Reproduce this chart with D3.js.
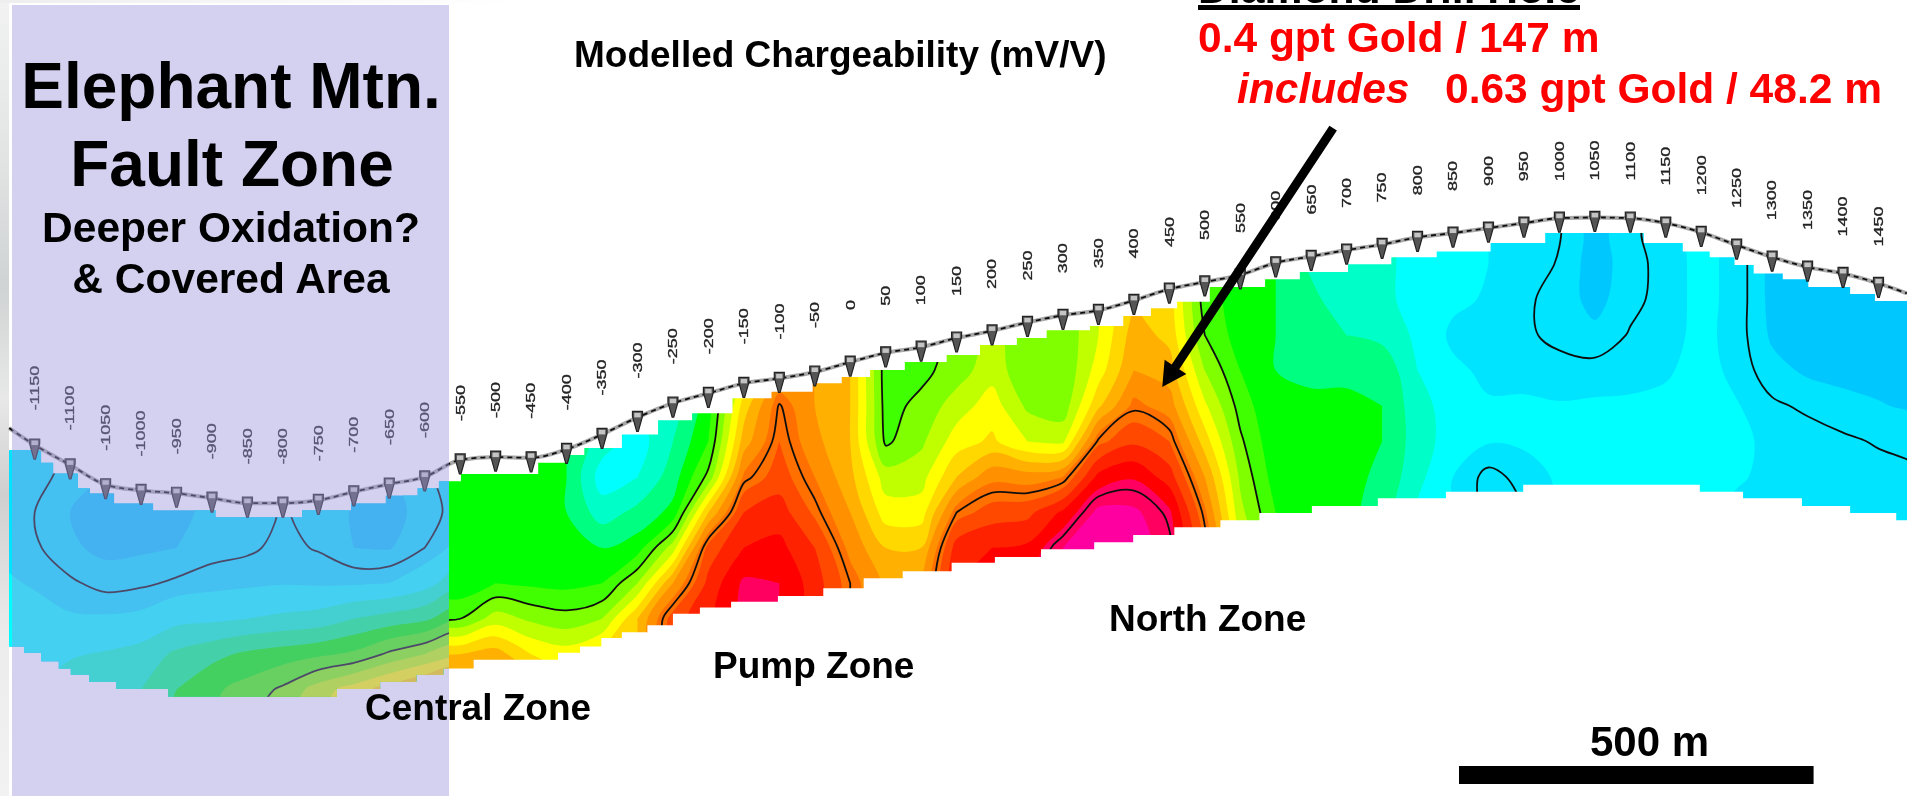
<!DOCTYPE html>
<html>
<head>
<meta charset="utf-8">
<title>Modelled Chargeability</title>
<script src="https://cdn.jsdelivr.net/npm/d3@7"></script>
<style>
  html, body { margin: 0; padding: 0; background: #fff; }
  svg { display: block; }
  text { font-family: "Liberation Sans", Arial, sans-serif; font-weight: bold; }
</style>
</head>
<body>
<svg id="chart" width="1907" height="796"></svg>
<script>
const _ = null;

// stations along the line (m) and surface elevation at each one (m, relative)
const stations = d3.range(-1150, 1451, 50);
const surface = [495, 467, 439, 431, 427, 420, 413, 413, 417, 429, 440, 450, 474, 478, 477, 489, 510, 534,
    554, 568, 582, 589, 598, 612, 625, 633, 646, 656, 668, 678, 685, 699, 715, 725, 735, 752, 761, 770,
    778, 788, 794, 801, 808, 815, 816, 815, 808, 795, 777, 760, 746, 737, 723];
const lineEnds = [[-1186, 519], [1490, 709]];

// staircase outline of the inverted section: m where a step starts, elevation of that step
const topStepM = [-1186, -1141, -1124, -1089, -1072, -1038, -983, -895, -773, -704, -655, -610, -580, -549,
    -440, -400, -375, -322, -271, -223, -166, -111, -53, -12, 28, 77, 136, 183, 235, 277, 338, 385, 424,
    461, 507, 585, 634, 702, 763, 827, 903, 980, 1119, 1174, 1212, 1247, 1274, 1315, 1351, 1410, 1445, 1500];
const topStepElev = [488, 470, 455, 434, 427, 413, 403, 393, 403, 413, 424, 434, 444, 454,
    470, 481, 491, 510, 530, 540, 561, 570, 582, 591, 601, 612, 622, 636, 646, 657, 663, 677, 688,
    697, 718, 729, 739, 750, 760, 768, 780, 794, 780, 768, 760, 749, 737, 729, 718, 708, 698, 698];
const bottomStepM = [-1186, -1165, -1141, -1116, -1099, -1073, -1035, -962, -724, -663, -612, -574, -531,
    -412, -381, -351, -322, -286, -250, -212, -168, -102, -38, 19, 74, 143, 204, 269, 344, 399, 457,
    522, 577, 651, 744, 840, 949, 1198, 1259, 1342, 1410, 1475, 1500];
const bottomStepElev = [211, 202, 190, 180, 171, 161, 151, 140, 151, 161, 171, 180, 192,
    202, 211, 223, 231, 241, 257, 266, 274, 282, 293, 307, 317, 329, 337, 348, 358, 368, 379,
    389, 399, 409, 420, 429, 439, 429, 420, 409, 399, 389, 389];

// left panel (fault zone), one line per column -1200 .. -550, elevations 500 down to 100
const leftColumnM = d3.range(-1200, -549, 50);
const leftRowElev = d3.range(500, 99, -50);
const leftColumns = [
    [1.7, 1.75, 1.8, 1.85, 2.1, 2.2, 2.3, 2.4, 2.5],
    [1.7, 1.7, 1.5, 1.6, 1.95, 2.2, 2.4, 3, 3.2],
    [1.5, 1.3, 1, 1.1, 1.6, 2.1, 2.9, 3.5, 3.8],
    [.9, .9, .8, .85, 1.3, 2.1, 3.1, 3.8, 4],
    [.9, .9, .8, .9, 1.4, 2.2, 3.4, 4, 4.3],
    [.9, .9, .9, 1, 1.6, 2.7, 4.2, 5, 5.3],
    [1.1, 1.1, 1.1, 1.3, 1.75, 2.8, 4.7, 5.8, 6],
    [1.2, 1.2, 1.2, 1.4, 1.85, 3, 5.2, 6.4, 6.8],
    [1.55, 1.55, 1.55, 1.65, 1.95, 3.2, 5.5, 7.2, 7.6],
    [1.3, 1.3, 1.3, 1.45, 1.9, 3.4, 5.8, 8.5, 9],
    [1.1, 1.1, .95, 1, 1.9, 4, 6.2, 9.5, 10],
    [.9, .9, .8, .95, 2, 4.4, 7.2, 10.5, 11],
    [1.5, 1.4, 1.2, 1.5, 2.6, 4.8, 8, 11.5, 12],
    [1.8, 1.8, 1.8, 2.3, 3.7, 5.8, 9, 12, 13]
];

// right panel, one line per column -600 .. 1500, elevations 800 down to 150
const rightColumnM = d3.range(-600, 1501, 50);
const rightRowElev = d3.range(800, 149, -50);
const rightColumns = [
    [_, _, _, _, _, _, _, 5, 5, 5, 5.2, 7, 11, 13],
    [_, _, _, _, _, _, _, 5, 5, 5, 5.2, 7, 11, 13],
    [_, _, _, _, _, _, _, 5, 5, 5, 6, 8.5, 11.5, 13],
    [_, _, _, _, _, _, _, 5, 5, 5, 5.8, 7.8, 10, 12],
    [_, _, _, _, _, _, _, 5, 5, 5.1, 5.7, 7.4, 9.5, 11],
    [_, _, _, _, _, _, 3.5, 2.5, 3.5, 5, 6, 8, 10.5],
    [_, _, _, _, _, 3, 2.5, 3, 4.3, 5.5, 8, 11],
    [_, _, _, _, _, 3.5, 4, 4.5, 5.3, 8.5, 12, 14.5],
    [_, _, _, _, 5, 5.5, 6, 7.3, 11, 14.4, 15.3, 15.8],
    [_, _, _, _, 9, 10.5, 11.5, 13.2, 15, 16, 17.2, 17.3],
    [_, _, _, _, 12, 13.6, 14, 14.5, 15.5, 16.3, 17, 17],
    [_, _, _, _, 12, 12, 12.3, 13, 13.8, 15, 15.5, 15.5],
    [_, _, _, _, 11, 11, 11, 11.3, 12, 12.7, 13.5],
    [_, _, _, 6.6, 6.5, 6.6, 6.8, 8.5, 9.5, 11, 11.8],
    [_, _, _, 6.7, 6.7, 7.3, 7.8, 8.6, 9.5, 11, 12],
    [_, _, _, 7.2, 7.5, 8.5, 9.5, 11, 13.5, 15.5, 16],
    [_, _, 8.4, 8.4, 8.6, 9.5, 10.2, 12.7, 14.5, 16, 17],
    [_, _, _, 7.3, 7.2, 7.8, 9, 12.5, 14.7, 16.2, 17],
    [_, _, _, 7.2, 7.1, 7.4, 8.8, 13, 16.2, 18, 18],
    [_, _, _, 9, 9.5, 10.8, 13.7, 16.3, 18.3, 18.5],
    [_, _, 11, 11.5, 12, 13.3, 14.8, 16.9, 18.2, 18.5],
    [_, _, 10.5, 10.7, 11.5, 12.5, 14, 15.5, 17.2, 17.6],
    [_, _, 6.5, 7, 8, 9.2, 10.5, 12, 13.2, 14],
    [_, _, 5.5, 5.5, 6, 6.6, 7.2, 7.8, 8.3, 9],
    [_, 5, 5, 5, 5, 5, 5.2, 5.5, 6, 6.5],
    [_, 3.8, 4.3, 4.3, 4.7, 5.3, 5.3, 5.3, 5.5],
    [_, 3.3, 3.3, 4, 4.8, 5.2, 5.3, 5.3, 5.3],
    [_, 3.2, 3.2, 3.7, 4.8, 5, 5, 4.8, 4.5],
    [_, 2.7, 2.7, 2.8, 3, 3.4, 3.5, 3.3, 2.8],
    [_, 2.3, 2.2, 1.8, 2.2, 2.5, 2.5, 2, 2],
    [_, 2, 1.9, 1.6, 1.8, 2.1, 2.05, 1.3, 1.3],
    [_, 1.8, 1.6, 1.6, 1.8, 2.1, 2.1, 1.7, 1.5],
    [1.55, 1.45, 1.3, 1.35, 1.7, 2.05, 2.1, 2.1, 2.1],
    [.7, .7, .8, 1.15, 1.7, 2.1, 2.2, 2.2],
    [1.4, 1.3, 1.35, 1.55, 1.8, 2.1, 2.2, 2.2],
    [_, 1.7, 1.7, 1.75, 1.9, 2.2, 2.3, 2.2],
    [_, 2.2, 2.2, 2.2, 2.3, 2.3, 2.2, 2.1, 2.1],
    [_, _, 1.8, 1.75, 1.8, 2.05, 2.1, 2.05, 1.9],
    [_, _, .8, .9, 1.2, 1.6, 1.9, 1.9, 1.85],
    [_, _, .7, .7, .9, 1.4, 1.75, 1.8, 1.8],
    [_, _, .7, .7, .8, 1.2, 1.6, 1.75, 1.8],
    [_, _, .7, .7, .75, 1.05, 1.45, 1.7, 1.75],
    [_, _, .7, .7, .7, .9, 1.35, 1.6, 1.7]
];

// colour bands of the rainbow scale and the levels that get a black contour
const bandLevels = d3.range(0, 19);
const bandColors = ['#00c8ff', '#00e4ff', '#00ffff', '#00ffc8', '#00ff80', '#00ff00', '#40ff00', '#80ff00',
    '#c0ff00', '#ffff00', '#ffd800', '#ffb000', '#ff9000', '#ff7000', '#ff4800', '#ff2000', '#ff0000',
    '#ff0060', '#ff00a0'];
const contourLevels = [1.5, 7, 13.5, 17.4];

const scaleBarMetres = 500;
const holeTitle = 'Diamond Drill Hole';
const holeLines = ['0.4 gpt Gold / 147 m', 'includes', '0.63 gpt Gold / 48.2 m'];
const arrowM = [681, 440];
const arrowElev = [942, 577];

const width = 1907, height = 796;
const x = d3.scaleLinear().domain([-1150, 1450]).range([34.7, 1878.5]);
const y = d3.scaleLinear().domain([0, 1122.7]).range([height, 0]);
const bandColor = d3.scaleOrdinal(bandLevels, bandColors);

const svg = d3.select('#chart');
const defs = svg.append('defs');

const edgeGrad = defs.append('linearGradient').attr('id', 'edge').attr('x1', 0).attr('x2', 0).attr('y1', 0).attr('y2', 1);
[[0, '#f2f2f2'], [.2, '#e2e4e4'], [.36, '#d0d3d3'], [.5, '#e8e8e8'], [.62, '#cfcfcf'], [.8, '#ececec'], [1, '#f2f2f2']]
    .forEach(s => edgeGrad.append('stop').attr('offset', s[0]).attr('stop-color', s[1]));
const topGrad = defs.append('linearGradient').attr('id', 'topEdge');
[[0, '#eeeeee'], [1, '#ffffff']].forEach(s => topGrad.append('stop').attr('offset', s[0]).attr('stop-color', s[1]));

[['soft', .7], ['softer', .45]].forEach(f => {
    defs.append('filter').attr('id', f[0]).attr('x', '-5%').attr('y', '-5%').attr('width', '110%').attr('height', '110%')
        .append('feGaussianBlur').attr('stdDeviation', f[1]);
});

// outline of the section as a closed staircase
function stairPoints(ms, elevs) {
    const pts = [];
    for (let i = 0; i < ms.length - 1; i++) {
        pts.push([ms[i], elevs[i]], [ms[i + 1], elevs[i]]);
    }
    return pts;
}
const outline = stairPoints(topStepM, topStepElev).concat(stairPoints(bottomStepM, bottomStepElev).reverse());
const toPath = d3.line().x(d => x(d[0])).y(d => y(d[1]));

defs.append('clipPath').attr('id', 'sectionClip').append('path').attr('d', toPath(outline) + 'Z');
defs.append('clipPath').attr('id', 'leftClip').append('rect')
    .attr('x', 0).attr('y', 0).attr('width', 449).attr('height', height);
defs.append('clipPath').attr('id', 'rightClip').append('rect')
    .attr('x', 449).attr('y', 0).attr('width', width - 449).attr('height', height);

svg.append('rect').attr('width', width).attr('height', height).attr('fill', '#fff');
svg.append('rect').attr('width', 9).attr('height', height).attr('fill', 'url(#edge)');
svg.append('rect').attr('width', 520).attr('height', 3).attr('fill', 'url(#topEdge)');

// pad each column up and down with its nearest read value, then flatten by rows
function flatten(columns, nRows) {
    const full = columns.map(c => {
        const vals = d3.range(nRows).map(i => (i < c.length ? c[i] : _));
        const first = vals.find(v => v !== _);
        let last = first;
        return vals.map(v => {
            if (v === _) return last;
            last = v;
            return v;
        });
    });
    const out = [];
    for (let r = 0; r < nRows; r++) {
        for (let c = 0; c < columns.length; c++) out.push(full[c][r]);
    }
    return out;
}

const smoothRing = d3.line().curve(d3.curveCatmullRomClosed.alpha(.5));

function drawPanel(parent, columnM, rowElev, columns, clipId) {
    const nx = columnM.length, ny = rowElev.length;
    const values = flatten(columns, ny);
    const colX = d3.scaleLinear().domain([.5, nx - .5]).range([x(columnM[0]), x(columnM[nx - 1])]);
    const rowY = d3.scaleLinear().domain([.5, ny - .5]).range([y(rowElev[0]), y(rowElev[ny - 1])]);
    // contour rings come in grid units, bring them to the page and round the corners
    const ringPath = geom => geom.coordinates
        .flatMap(poly => poly.map(ring => smoothRing(ring.slice(0, -1).map(p => [colX(p[0]), rowY(p[1])]))))
        .join('');
    const g = parent.append('g').attr('clip-path', `url(#${clipId})`);

    g.selectAll('path.band')
        .data(d3.contours().size([nx, ny]).thresholds(bandLevels)(values))
        .enter().append('path')
        .attr('class', 'band')
        .attr('d', ringPath)
        .attr('fill', d => bandColor(d.value));

    g.selectAll('path.iso')
        .data(d3.contours().size([nx, ny]).thresholds(contourLevels)(values))
        .enter().append('path')
        .attr('class', 'iso')
        .attr('d', ringPath)
        .attr('fill', 'none')
        .attr('stroke', '#111')
        .attr('stroke-width', 1.8);
}

const section = svg.append('g').attr('filter', 'url(#softer)')
    .append('g').attr('clip-path', 'url(#sectionClip)');
drawPanel(section, leftColumnM, leftRowElev, leftColumns, 'leftClip');
drawPanel(section, rightColumnM, rightRowElev, rightColumns, 'rightClip');

// survey line, flags and station labels
const lineData = [lineEnds[0]].concat(stations.map((s, i) => [s, surface[i]]), [lineEnds[1]]);
const surfaceLine = d3.line().x(d => x(d[0])).y(d => y(d[1])).curve(d3.curveMonotoneX);
const survey = svg.append('g').attr('filter', 'url(#soft)');
survey.append('path').attr('d', surfaceLine(lineData)).attr('fill', 'none')
    .attr('stroke', '#a8a8a8').attr('stroke-width', 4);
survey.append('path').attr('d', surfaceLine(lineData)).attr('fill', 'none')
    .attr('stroke', '#111').attr('stroke-width', 1.8).attr('stroke-dasharray', '5 4');
survey.selectAll('path.flag')
    .data(stations)
    .enter().append('path')
    .attr('class', 'flag')
    .attr('transform', (d, i) => `translate(${x(d)},${y(surface[i])})`)
    .attr('d', 'M-5,-6H5V-1L.8,14H-.8L-5,-1Z')
    .attr('fill', '#555')
    .attr('stroke', '#222')
    .attr('stroke-width', 1.2);
survey.selectAll('rect.flagTop')
    .data(stations)
    .enter().append('rect')
    .attr('class', 'flagTop')
    .attr('x', (d, i) => x(d) - 3.2)
    .attr('y', (d, i) => y(surface[i]) - 4.5)
    .attr('width', 6.4)
    .attr('height', 4.5)
    .attr('fill', '#c4c4c4');

svg.append('g').attr('filter', 'url(#softer)')
    .selectAll('text')
    .data(stations)
    .enter().append('text')
    .attr('transform', (d, i) => `translate(${x(d)},${y(surface[i]) - 57}) rotate(-90) scale(1.5,1)`)
    .attr('text-anchor', 'middle')
    .attr('dy', '0.36em')
    .attr('font-size', 12)
    .style('font-weight', 'normal')
    .attr('fill', '#222')
    .attr('stroke', '#222')
    .attr('stroke-width', .3)
    .text(d => d);

// fault zone overlay
svg.append('rect').attr('x', 12).attr('y', 5).attr('width', 437).attr('height', height - 5)
    .attr('fill', 'rgb(154,148,221)').attr('fill-opacity', .44);

// annotation text
function label(str, lx, ly, size, anchor, fill) {
    return svg.append('text').attr('x', lx).attr('y', ly).attr('font-size', size)
        .attr('text-anchor', anchor || 'start').attr('fill', fill || '#000').text(str);
}
label('Elephant Mtn.', 231, 108, 64, 'middle');
label('Fault Zone', 232, 186, 64, 'middle');
label('Deeper Oxidation?', 231, 242, 42.5, 'middle');
label('& Covered Area', 231, 293, 42.5, 'middle');
label('Modelled Chargeability (mV/V)', 574, 67, 37);
label('Central Zone', 365, 720, 37);
label('Pump Zone', 713, 678, 37);
label('North Zone', 1109, 631, 37);

label(holeTitle, 1198, 3, 42.7);
svg.append('rect').attr('x', 1198).attr('y', 5).attr('width', 382).attr('height', 5).attr('fill', '#000');
label(holeLines[0], 1198, 52, 42.5, 'start', '#ff0000');
label(holeLines[1], 1237, 103, 42.5, 'start', '#ff0000').style('font-style', 'italic');
label(holeLines[2], 1445, 103, 42.5, 'start', '#ff0000');

// drill hole arrow
const tail = [x(arrowM[0]), y(arrowElev[0])], tip = [x(arrowM[1]), y(arrowElev[1])];
const angle = Math.atan2(tip[1] - tail[1], tip[0] - tail[0]) * 180 / Math.PI;
const arrowLen = Math.hypot(tip[0] - tail[0], tip[1] - tail[1]);
svg.append('g').attr('transform', `translate(${tail[0]},${tail[1]}) rotate(${angle})`)
    .append('path')
    .attr('d', `M0,-4.5H${arrowLen - 24}V-13L${arrowLen},0L${arrowLen - 24},13V4.5H0Z`)
    .attr('fill', '#000');

// scale bar
const barStart = 1459;
const barEnd = barStart + (x(scaleBarMetres) - x(0));
svg.append('rect').attr('x', barStart).attr('y', 766).attr('width', barEnd - barStart).attr('height', 18).attr('fill', '#000');
label(`${scaleBarMetres} m`, 1590, 756, 42);
</script>
</body>
</html>
